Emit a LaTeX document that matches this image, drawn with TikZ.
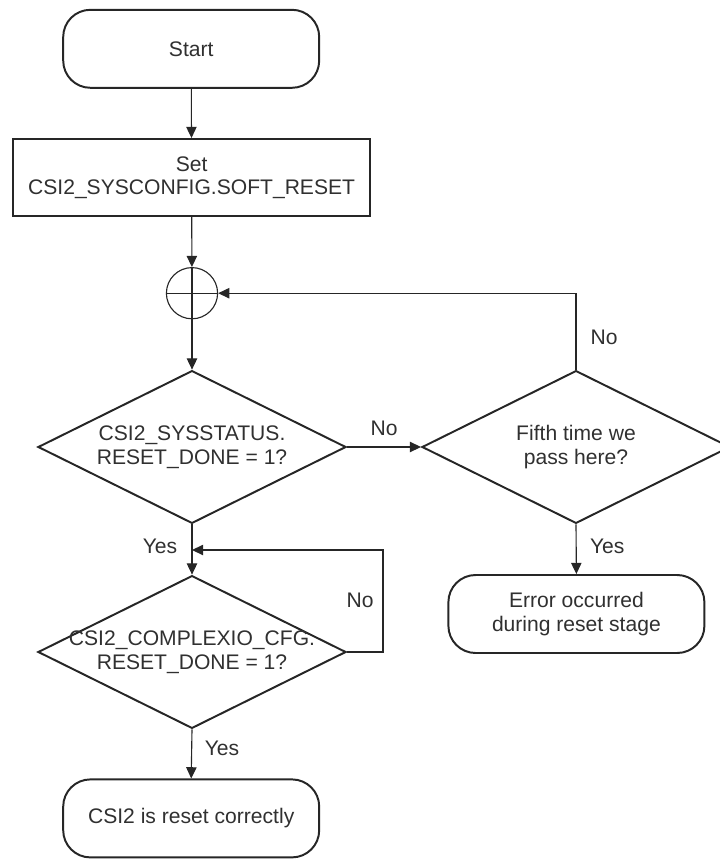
\documentclass[tikz,border=0pt]{standalone}
\usepackage{fontspec}
\setmainfont{Liberation Sans}
\usepackage{tikz}
\usetikzlibrary{positioning,arrows.meta,shapes.geometric}
\definecolor{flowink}{HTML}{262626}
\definecolor{flowtext}{HTML}{303030}

\begin{document}
\begin{tikzpicture}[>={Triangle[length=0.28cm,width=0.26cm]},
    every node/.style={font=\fontsize{15}{16.8}\selectfont,text=flowtext},
    terminal/.style={rectangle,rounded corners=0.68cm,draw=flowink,line width=1.4pt,minimum width=6.4cm,minimum height=1.95cm,align=center},
    process/.style={rectangle,draw=flowink,line width=1.4pt,minimum width=8.93cm,minimum height=1.93cm,align=center},
    decision/.style={diamond,draw=flowink,line width=1.4pt,minimum width=7.7cm,minimum height=3.82cm,inner sep=0pt},
    flow/.style={->,draw=flowink,line width=0.8pt}]
        \useasboundingbox (0,0) rectangle (17.975,-21.475);
        \node[terminal] (start) at (4.78,-1.22) {Start};
        \node[process] (soft) at (4.79,-4.44) {Set\\CSI2\_SYSCONFIG.SOFT\_RESET};
        \node[circle,draw=flowink,line width=0.8pt,minimum size=1.28cm,inner sep=0pt] (join) at (4.8,-7.33) {};
        \node[decision] (sys) at (4.8,-11.175) {};
        \node[align=center] (systxt) at (sys) {CSI2\_SYSSTATUS.\\RESET\_DONE = 1?};
        \node[decision] (fifth) at (14.4,-11.175) {};
        \node[align=center] (fifthtxt) at (fifth) {Fifth time we\\pass here?};
        \node[terminal] (err) at (14.41,-15.35) {Error occurred\\during reset stage};
        \node[decision] (cplx) at (4.8,-16.3) {};
        \node[align=center] (cplxtxt) at (cplx) {CSI2\_COMPLEXIO\_CFG.\\RESET\_DONE = 1?};
        \node[terminal] (done) at (4.78,-20.46) {CSI2 is reset correctly};
        \coordinate (merge) at (4.8,-13.75);
        \coordinate (loop) at (9.575,-13.75);
        % connectors
        \draw[flow] (start) -- (soft);
        \draw[flow] (soft) -- (join);
        \draw[draw=flowink,line width=0.8pt] (join.north) -- (join.south) (join.west) -- (join.east);
        \draw[flow] (join.south) -- (sys.north);
        \draw[flow] (sys.east) -- (fifth.west);
        \draw[flow] (fifth.north) |- (join.east);
        \draw[flow] (fifth.south) -- (err.north);
        \draw[flow] (sys.south) -- (cplx.north);
        \draw[flow] (cplx.east) -| (loop) -- (merge);
        \draw[flow] (cplx.south) -- (done.north);
        % labels
        \node (nosys) at (9.6,-10.72) {No};
        \node (nofifth) at (15.1,-8.43) {No};
        \node (yesfifth) at (15.18,-13.65) {Yes};
        \node (yessys) at (4.0,-13.65) {Yes};
        \node (nocplx) at (9.0,-15.0) {No};
        \node (yescplx) at (5.55,-18.7) {Yes};
      \end{tikzpicture}
\end{document}
